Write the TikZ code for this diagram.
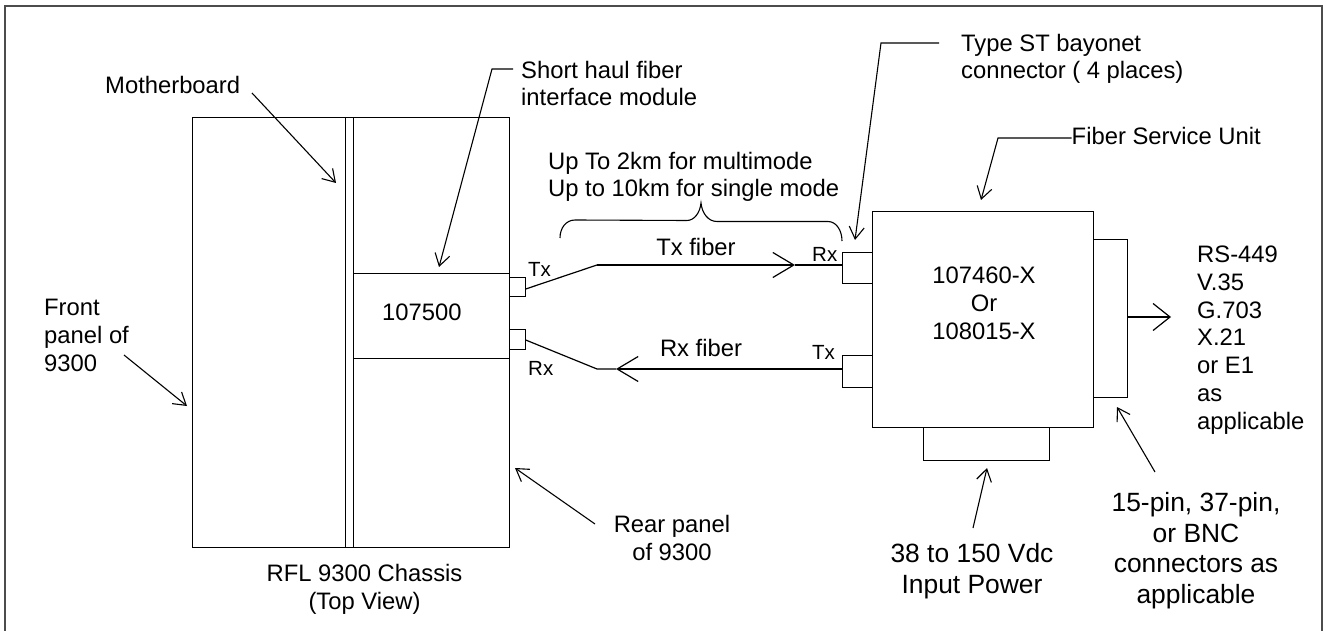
\documentclass[tikz,border=0pt]{standalone}
\usepackage{fontspec}
\setmainfont{Liberation Sans}
\usetikzlibrary{arrows.meta, positioning}
\tikzset{
  box/.style={draw, line width=1.2pt, inner sep=0pt, anchor=north west},
  label/.style={inner sep=0pt, yshift=-2pt, font=\fontsize{23.8}{27.7}\selectfont, text height=17pt, text depth=5pt},
  biglabel/.style={label, align=center, font=\fontsize{26.4}{30.5}\selectfont},
  small/.style={inner sep=0pt, font=\fontsize{20.5}{24}\selectfont, text height=15pt, text depth=0pt, anchor=west},
  barb/.style={-{Straight Barb[length=12pt,width=15pt]}, line width=1.1pt},
  bigbarb/.style={-{Straight Barb[length=21pt,width=25pt,line width=1.2pt]}, line width=1.2pt},
}
\newcommand{\boxat}[6]{\node [box, minimum width=#4pt-#2pt, minimum height=#5pt-#3pt] (#1) at (#2, #3) {#6};}
\begin{document}
\begin{tikzpicture}[x=1pt, y=-1pt]
\useasboundingbox (0, 0) rectangle (1323, 631);
\draw [line width=1.3pt, color=black!70] (5, 631) -- (5, 6) -- (1322, 6) -- (1322, 631);
\boxat{chassis}{192}{117}{508.5}{547}{}
\boxat{mboard}{345}{117}{353}{547}{}
\boxat{module}{353}{273}{509}{358}{}
\boxat{txport}{509}{277}{524.5}{296}{}
\boxat{rxport}{509}{329}{524.5}{349}{}
\boxat{fsu}{872}{211}{1093}{427}{}
\boxat{rxst}{842}{252}{872}{283}{}
\boxat{txst}{842}{355}{872}{387}{}
\boxat{dconn}{1093}{239}{1127}{397}{}
\boxat{pconn}{923}{427}{1049}{460}{}
\node [label, anchor=west] (modnum) at (382, 312) {107500};
\node [label, align=center] (fsunum) at (984, 331) {107460-X\\Or\\108015-X};
\node [label, anchor=west] (mblabel) at (105, 86) {Motherboard};
\node [label, anchor=west, align=left] (frontlabel) at (44, 363) {Front\\panel of\\9300};
\node [label, anchor=west, align=left] (shortlabel) at (521, 98) {Short haul fiber\\interface module};
\node [label, anchor=west, align=left] (uplabel) at (548, 189) {Up To 2km for multimode\\Up to 10km for single mode};
\node [label, anchor=west, align=left] (stlabel) at (961, 71) {Type ST bayonet\\connector ( 4 places)};
\node [label, anchor=west] (fsulabel) at (1071.5, 137) {Fiber Service Unit};
\node [label] (txfiber) at (696, 248) {Tx fiber};
\node [label] (rxfiber) at (701, 348) {Rx fiber};
\node [small] (txleft) at (528, 269) {Tx};
\node [small] (rxleft) at (528, 368) {Rx};
\node [small] (rxright) at (812, 254) {Rx};
\node [small] (txright) at (812, 352) {Tx};
\node [label, anchor=west, align=left] (iflabel) at (1197, 421) {RS-449\\V.35\\G.703\\X.21\\or E1\\as\\applicable};
\node [biglabel] (pinlabel) at (1196, 595) {15-pin, 37-pin,\\or BNC\\connectors as\\applicable};
\node [biglabel] (powerlabel) at (972, 585) {38 to 150 Vdc\\Input Power};
\node [label, align=center] (rearlabel) at (672, 552) {Rear panel\\of 9300};
\node [label, align=center] (chassislabel) at (364.5, 601) {RFL 9300 Chassis\\(Top View)};
\coordinate (txbend) at (597, 265);
\coordinate (txtip) at (795, 265);
\coordinate (rxbend) at (597, 369);
\coordinate (rxtip) at (616, 369);
\coordinate (shortfree) at (513, 69);
\coordinate (shortbend) at (492, 69);
\coordinate (shorttip) at (439, 267);
\coordinate (stfree) at (939, 43);
\coordinate (stbend) at (881, 43);
\coordinate (sttip) at (855, 240);
\coordinate (fsubend) at (998, 138);
\coordinate (fsutip) at (981, 200);
\draw [line width=1.2pt] (txport.east |- 0, 289) -- (txbend);
\draw [bigbarb, line width=2pt] (txbend) -- (txtip);
\draw [line width=2pt] (txtip) -- (rxst.west |- txbend);
\draw [line width=1.2pt] (rxport.east |- 0, 340) -- (rxbend) -- (rxtip);
\draw [bigbarb] (rxbend -| txst.west) -- (rxtip);
\draw [barb] (shortfree) -- (shortbend) -- (shorttip);
\draw [barb] (stfree) -- (stbend) -- (sttip);
\draw [barb] (fsulabel.west |- fsubend) -- (fsubend) -- (fsutip);
\draw [-{Straight Barb[length=17pt,width=27pt]}, line width=1.2pt] (dconn.east |- 0, 317) -- (1171, 317);
\draw [barb] (252, 93) -- (336, 183);
\draw [barb] (124, 355) -- (187, 406);
\draw [barb] (595, 524) -- (515, 468);
\draw [barb] (973, 528) -- (987, 468);
\draw [barb] (1155, 472) -- (1117, 407);
\draw [line width=1.1pt] (560, 238) .. controls (560, 228) and (566, 220) .. (575, 220) -- (687, 220.5) .. controls (694, 220.5) and (700, 213) .. (701, 203) .. controls (702, 213) and (708, 221.5) .. (717, 221.5) -- (828, 221.5) .. controls (836, 221.5) and (842, 230) .. (842, 241);
\end{tikzpicture}
\end{document}
